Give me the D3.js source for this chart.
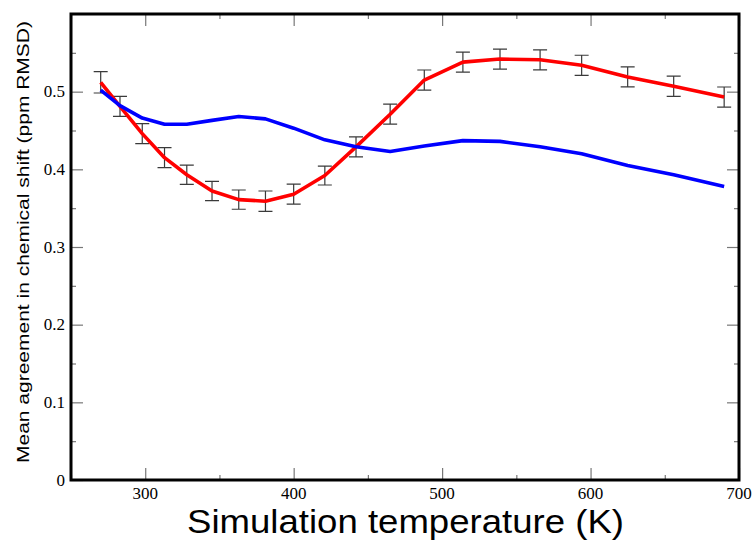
<!DOCTYPE html>
<html>
<head>
<meta charset="utf-8">
<script src="https://cdn.jsdelivr.net/npm/d3@7"></script>
<style>
  body { margin: 0; background: #fff; }
  svg { display: block; }
</style>
</head>
<body>
<script>
// simulation temperatures (K)
var temps = [270, 283, 298, 313, 328, 345, 363, 381, 400, 421, 442, 465, 488, 514, 539, 566, 594, 625, 656, 690];

// red series, with error bars
var redVals = [0.512, 0.481, 0.446, 0.415, 0.393, 0.372, 0.361, 0.359, 0.368, 0.392,
               0.429, 0.471, 0.515, 0.538, 0.542, 0.541, 0.534, 0.519, 0.507, 0.493];
var redErr = [0.0137, 0.0129, 0.0129, 0.0129, 0.0124, 0.0124, 0.0124, 0.0131, 0.0129, 0.0122,
              0.0129, 0.0129, 0.0129, 0.0129, 0.0129, 0.0129, 0.0129, 0.0129, 0.013, 0.013];

// blue series
var blueVals = [0.502, 0.482, 0.466, 0.458, 0.458, 0.463, 0.468, 0.465, 0.453, 0.438,
                0.429, 0.423, 0.430, 0.437, 0.436, 0.429, 0.420, 0.405, 0.393, 0.378];

var xMajor = [300, 400, 500, 600, 700];
var xMinor = [250, 350, 450, 550, 650];
var yMajor = [0, 0.1, 0.2, 0.3, 0.4, 0.5];
var yMinor = [0.05, 0.15, 0.25, 0.35, 0.45, 0.55];

var W = 755, H = 542;
// plot frame (named so as not to clash with window.top)
var pLeft = 71, pRight = 739, pTop = 14, pBottom = 480;

var x = d3.scaleLinear().domain([250, 700]).range([pLeft, pRight]);
var y = d3.scaleLinear().domain([0, 0.6]).range([pBottom, pTop]);

var svg = d3.select("body").append("svg")
    .attr("width", W)
    .attr("height", H);

var tickCol = "#777";

// tick marks, inward on all four sides
function ticks(axis, pos, vals, size) {
    var g = svg.append("g")
        .attr("transform", pos)
        .call(axis.tickValues(vals).tickSize(size).tickFormat(""));
    g.select(".domain").remove();
    g.selectAll(".tick line").attr("stroke", tickCol).attr("stroke-width", 1.2);
}
ticks(d3.axisBottom(x), "translate(0," + pBottom + ")", xMajor, -12);
ticks(d3.axisBottom(x), "translate(0," + pBottom + ")", xMinor, -5);
ticks(d3.axisTop(x), "translate(0," + pTop + ")", xMajor, -12);
ticks(d3.axisTop(x), "translate(0," + pTop + ")", xMinor, -5);
ticks(d3.axisLeft(y), "translate(" + pLeft + ",0)", yMajor, -12);
ticks(d3.axisLeft(y), "translate(" + pLeft + ",0)", yMinor, -5);
ticks(d3.axisRight(y), "translate(" + pRight + ",0)", yMajor, -12);
ticks(d3.axisRight(y), "translate(" + pRight + ",0)", yMinor, -5);

// tick labels
svg.append("g").selectAll("text")
    .data(xMajor)
    .enter().append("text")
    .attr("x", function(d) { return x(d); })
    .attr("y", 499)
    .attr("text-anchor", "middle")
    .attr("font-family", "'Liberation Serif', 'DejaVu Serif', serif")
    .attr("font-size", 17)
    .text(function(d) { return d; });

svg.append("g").selectAll("text")
    .data(yMajor)
    .enter().append("text")
    .attr("x", 65)
    .attr("y", function(d) { return y(d); })
    .attr("dy", "0.34em")
    .attr("text-anchor", "end")
    .attr("font-family", "'Liberation Serif', 'DejaVu Serif', serif")
    .attr("font-size", 17)
    .text(function(d) { return d; });

// data
var red = temps.map(function(t, i) { return {t: t, v: redVals[i], e: redErr[i]}; });
var blue = temps.map(function(t, i) { return {t: t, v: blueVals[i]}; });

var line = d3.line()
    .x(function(d) { return x(d.t); })
    .y(function(d) { return y(d.v); });

// error bars
var eb = svg.append("g").attr("stroke", "#3a3a3a").attr("stroke-width", 1.2).attr("fill", "none");
eb.selectAll("path")
    .data(red)
    .enter().append("path")
    .attr("d", function(d) {
        var cx = x(d.t), y1 = y(d.v + d.e), y2 = y(d.v - d.e);
        return "M" + (cx - 7) + "," + y1 + "H" + (cx + 7) +
               "M" + cx + "," + y1 + "V" + y2 +
               "M" + (cx - 7) + "," + y2 + "H" + (cx + 7);
    });

svg.append("path")
    .datum(red)
    .attr("d", line)
    .attr("fill", "none")
    .attr("stroke", "#ff0000")
    .attr("stroke-width", 3.6)
    .attr("stroke-linejoin", "round");

svg.append("path")
    .datum(blue)
    .attr("d", line)
    .attr("fill", "none")
    .attr("stroke", "#0000ff")
    .attr("stroke-width", 3.6)
    .attr("stroke-linejoin", "round");

// frame
svg.append("rect")
    .attr("x", pLeft)
    .attr("y", pTop)
    .attr("width", pRight - pLeft)
    .attr("height", pBottom - pTop)
    .attr("fill", "none")
    .attr("stroke", "#000")
    .attr("stroke-width", 3);

// axis titles
svg.append("text")
    .attr("x", (187 + 624) / 2)
    .attr("y", 533)
    .attr("text-anchor", "middle")
    .attr("font-family", "'Liberation Sans', Arial, sans-serif")
    .attr("font-size", 34)
    .attr("textLength", 437)
    .attr("lengthAdjust", "spacingAndGlyphs")
    .text("Simulation temperature (K)");

svg.append("text")
    .attr("transform", "translate(29,242) rotate(-90)")
    .attr("text-anchor", "middle")
    .attr("font-family", "'Liberation Sans', Arial, sans-serif")
    .attr("font-size", 16)
    .attr("textLength", 442)
    .attr("lengthAdjust", "spacingAndGlyphs")
    .text("Mean agreement in chemical shift (ppm RMSD)");
</script>
</body>
</html>
